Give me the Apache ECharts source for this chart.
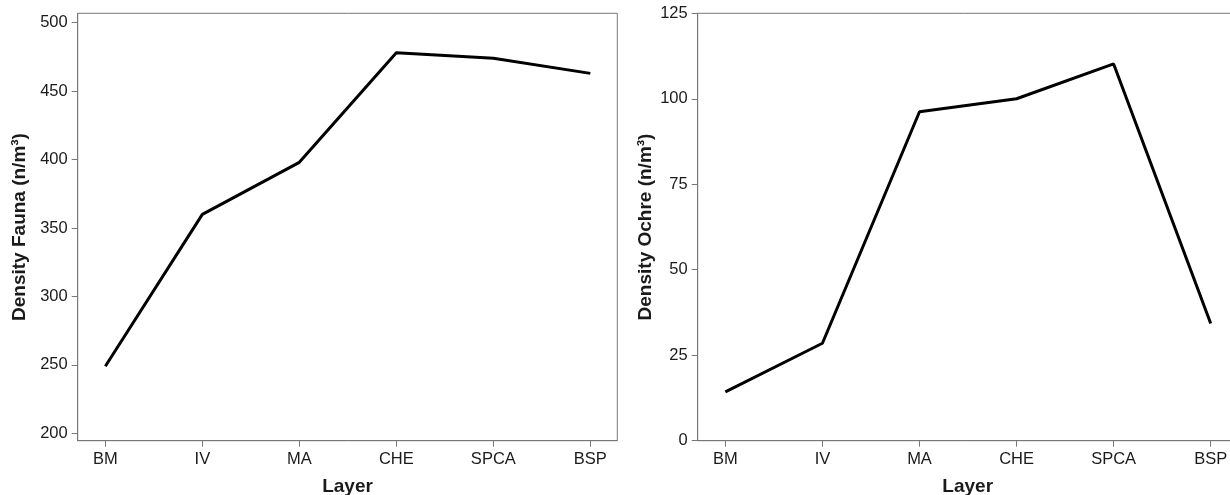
<!DOCTYPE html>
<html>
<head>
<meta charset="utf-8">
<script src="https://cdn.jsdelivr.net/npm/echarts@6/dist/echarts.min.js"></script>
<style>
html,body{margin:0;padding:0;background:#fff;}
#c{width:1230px;height:495px;}
</style>
</head>
<body>
<div id="c"></div>
<script>
const layers = ['BM', 'IV', 'MA', 'CHE', 'SPCA', 'BSP'];
const faunaDensity = [249, 360, 398, 478, 474, 463];
const ochreDensity = [14.3, 28.5, 96.2, 100, 110.2, 34.3];
const faunaTicks = [200, 250, 300, 350, 400, 450, 500];
const ochreTicks = [0, 25, 50, 75, 100, 125];

const layerIdx = layers.map((_, i) => i);
const font = 'Liberation Sans, Arial, sans-serif';
const axisCol = '#777';
const txtCol = '#1a1a1a';

function xAxisFor(gi) {
  return {
    type: 'value', gridIndex: gi, min: -0.285, max: 5.278,
    name: 'Layer', nameLocation: 'middle', nameGap: 37,
    nameTextStyle: {fontFamily: font, fontSize: 19, fontWeight: 'bold', color: txtCol},
    axisLine: {show: true, onZero: false, lineStyle: {color: axisCol, width: 1}},
    axisTick: {show: true, length: 6, customValues: layerIdx, lineStyle: {color: axisCol}},
    axisLabel: {customValues: layerIdx, formatter: v => layers[Math.round(v)] || '', margin: 10,
      fontFamily: font, fontSize: 16.5, color: txtCol},
    splitLine: {show: false}
  };
}
function yAxisFor(gi, name, min, max, ticks, gap) {
  return {
    type: 'value', gridIndex: gi, min: min, max: max,
    name: name, nameLocation: 'middle', nameGap: gap,
    nameTextStyle: {fontFamily: font, fontSize: 19, fontWeight: 'bold', color: txtCol},
    axisLine: {show: true, onZero: false, lineStyle: {color: axisCol, width: 1}},
    axisTick: {show: true, length: 6, customValues: ticks, lineStyle: {color: axisCol}},
    axisLabel: {customValues: ticks, margin: 10, fontFamily: font, fontSize: 16.5, color: txtCol},
    splitLine: {show: false}
  };
}

const chart = echarts.init(document.getElementById('c'));
chart.setOption({
  animation: false,
  backgroundColor: '#fff',
  grid: [
    {left: 77.7, top: 13.3, width: 539.6, height: 427.4, outerBoundsMode: 'none', containLabel: false,
     show: true, borderColor: axisCol, borderWidth: 1, backgroundColor: '#fff'},
    {left: 697.7, top: 13.3, width: 540, height: 427.4, outerBoundsMode: 'none', containLabel: false,
     show: true, borderColor: axisCol, borderWidth: 1, backgroundColor: '#fff'}
  ],
  xAxis: [xAxisFor(0), xAxisFor(1)],
  yAxis: [
    yAxisFor(0, 'Density Fauna (n/m³)', 194.6, 506.9, faunaTicks, 48),
    yAxisFor(1, 'Density Ochre (n/m³)', 0, 125, ochreTicks, 42)
  ],
  series: [
    {type: 'line', xAxisIndex: 0, yAxisIndex: 0, symbol: 'none',
     lineStyle: {color: '#000', width: 3}, data: faunaDensity.map((v, i) => [i, v])},
    {type: 'line', xAxisIndex: 1, yAxisIndex: 1, symbol: 'none',
     lineStyle: {color: '#000', width: 3}, data: ochreDensity.map((v, i) => [i, v])}
  ]
});
</script>
</body>
</html>
